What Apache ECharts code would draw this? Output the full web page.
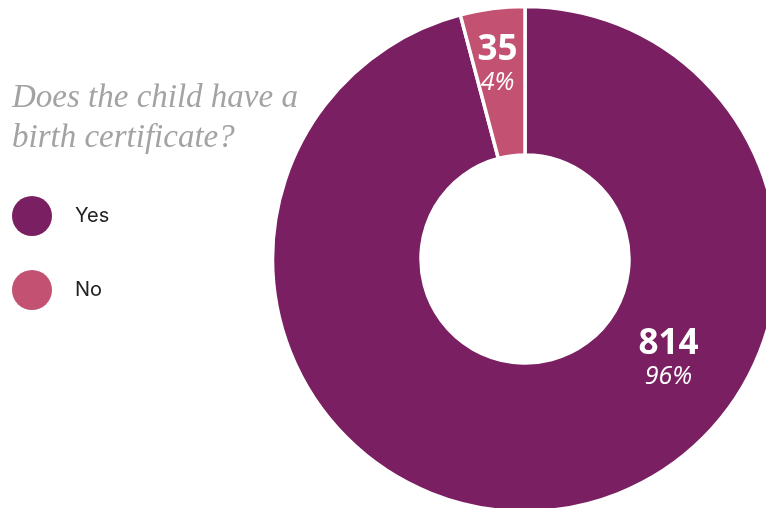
<!DOCTYPE html>
<html>
<head>
<meta charset="utf-8">
<script src="https://cdn.jsdelivr.net/npm/echarts@6/dist/echarts.min.js"></script>
<style>
  html, body { margin: 0; padding: 0; background: #ffffff; }
  #chart { width: 766px; height: 508px; }
</style>
</head>
<body>
<div id="chart"></div>
<script>
// Responses to the birth-certificate question
const categories = ['Yes', 'No'];
const counts = [814, 35];
const colors = ['#7a1f62', '#c35172'];
const titleText = 'Does the child have a\nbirth certificate?';

const total = counts.reduce((a, b) => a + b, 0);

// Label nudges from the default inside (mid-ring) position
const labelOffsets = [[120, -80], [-4, -14]];

const chart = echarts.init(document.getElementById('chart'), null, { renderer: 'canvas' });

chart.setOption({
  animation: false,
  backgroundColor: '#ffffff',
  title: {
    text: titleText,
    left: 7,
    top: 73,
    textStyle: {
      fontFamily: 'Liberation Serif',
      fontStyle: 'italic',
      fontWeight: 'normal',
      fontSize: 33,
      lineHeight: 40,
      color: '#a3a3a3'
    }
  },
  legend: {
    orient: 'vertical',
    left: 12,
    top: 196,
    padding: 0,
    icon: 'circle',
    itemWidth: 40,
    itemHeight: 40,
    itemGap: 34,
    data: categories,
    itemStyle: { borderWidth: 0 },
    textStyle: {
      fontFamily: 'Inter',
      fontSize: 20,
      color: '#222222',
      padding: [6, 0, 0, 18]
    }
  },
  series: [{
    type: 'pie',
    center: [525, 259],
    radius: [104, 252.5],
    startAngle: 90,
    clockwise: true,
    avoidLabelOverlap: false,
    itemStyle: { borderColor: '#ffffff', borderWidth: 3.5 },
    label: {
      show: true,
      position: 'inside',
      formatter: p => '{v|' + p.value + '}\n{p|' + Math.round(p.value / total * 100) + '%}',
      rich: {
        v: { fontFamily: 'Open Sans', fontWeight: 'bold', fontSize: 35, color: '#ffffff', lineHeight: 36 },
        p: { fontFamily: 'Open Sans', fontStyle: 'italic', fontSize: 25, color: '#ffffff', lineHeight: 30 }
      }
    },
    labelLine: { show: false },
    emphasis: { disabled: true },
    data: categories.map((name, i) => ({
      name,
      value: counts[i],
      itemStyle: { color: colors[i] },
      label: { offset: labelOffsets[i] }
    }))
  }]
});
</script>
</body>
</html>
